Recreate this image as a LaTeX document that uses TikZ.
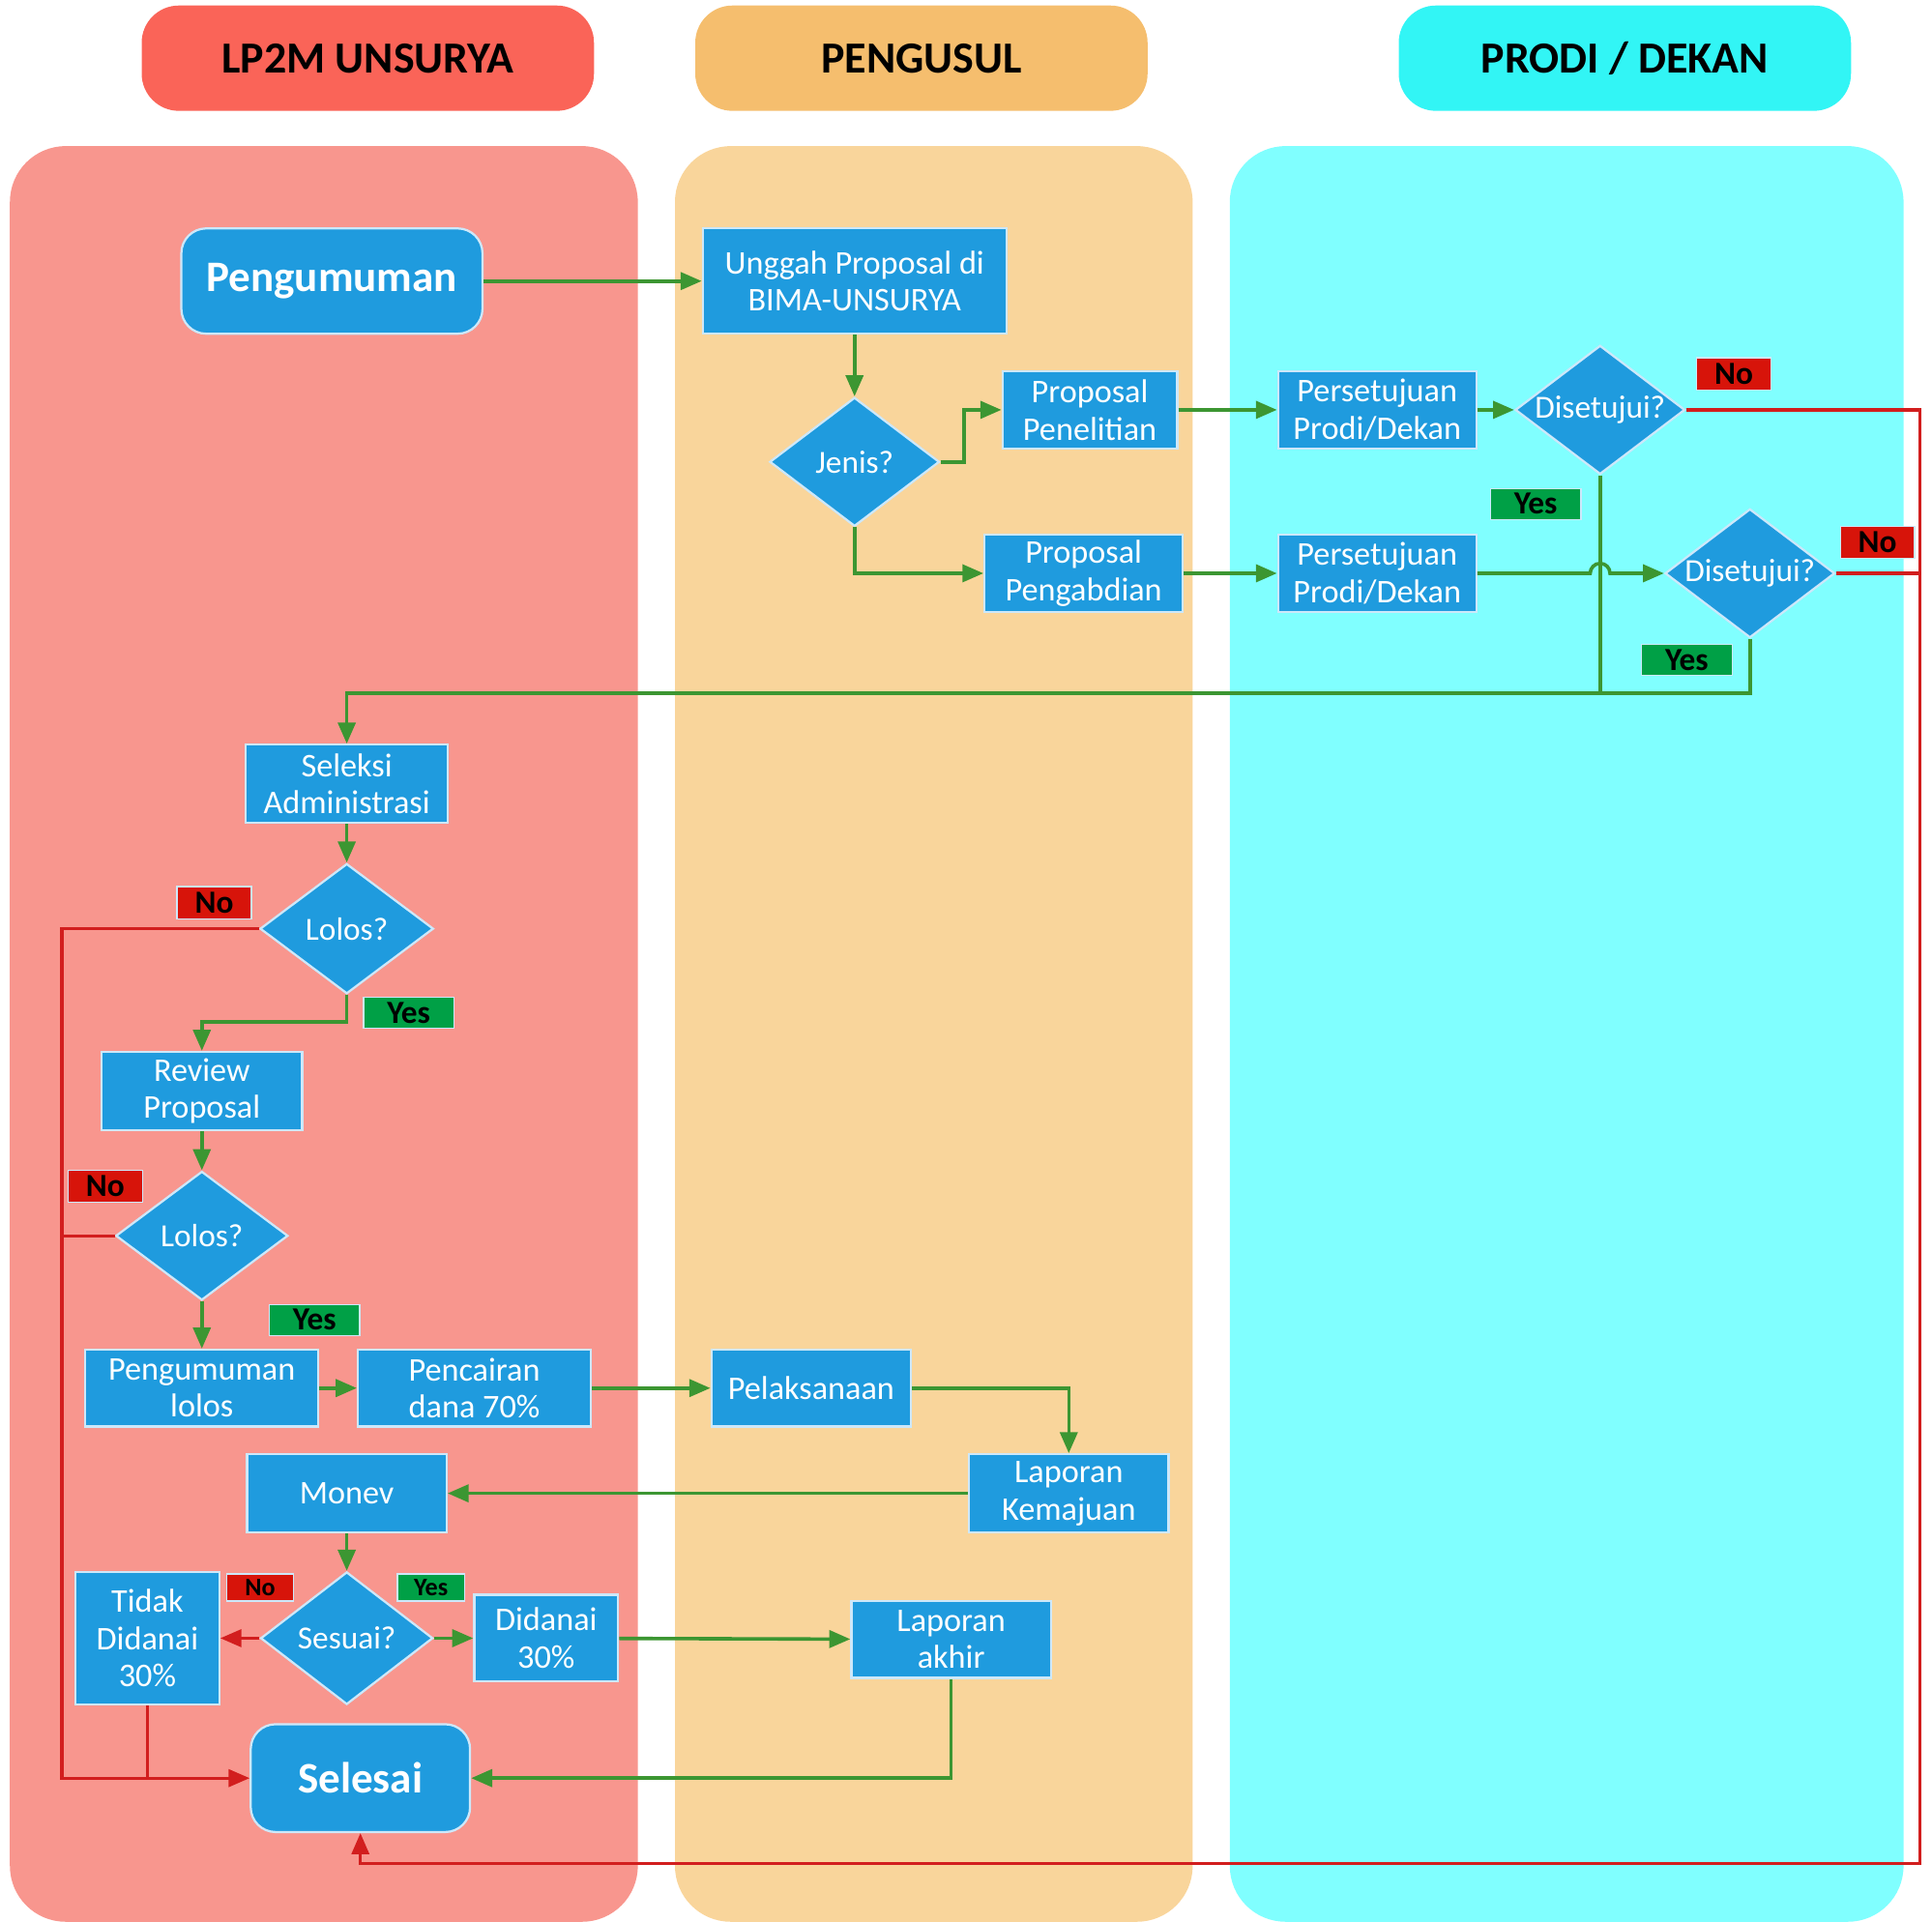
\documentclass[tikz,border=0pt]{standalone}
\usepackage{fontspec}
\setmainfont{Carlito}
\usetikzlibrary{arrows.meta,shapes.geometric}
\definecolor{hdrred}{RGB}{250,100,88}
\definecolor{hdrorange}{RGB}{245,190,110}
\definecolor{hdrcyan}{RGB}{50,245,245}
\definecolor{lanered}{RGB}{248,150,142}
\definecolor{laneorange}{RGB}{249,213,155}
\definecolor{lanecyan}{RGB}{128,255,255}
\definecolor{boxblue}{RGB}{31,155,222}
\definecolor{boxedge}{RGB}{205,232,250}
\definecolor{flowgreen}{RGB}{60,150,50}
\definecolor{flowred}{RGB}{210,30,30}
\definecolor{yesfill}{RGB}{0,160,70}
\definecolor{nofill}{RGB}{215,20,10}
\begin{document}
\begin{tikzpicture}[x=0.01cm, y=-0.01cm,
        header/.style = {rounded corners=0.3cm, minimum width=3.65cm, minimum height=0.85cm, font=\bfseries\fontsize{10.2}{12}\selectfont},
        proc/.style = {rectangle, fill=boxblue, draw=boxedge, line width=0.5pt, text=white, align=center, inner sep=0pt, font=\fontsize{7.6}{8.6}\selectfont},
        term/.style = {proc, rounded corners=0.2cm, font=\bfseries\fontsize{10}{12}\selectfont},
        decide/.style = {diamond, fill=boxblue, draw=boxedge, line width=0.5pt, text=white, inner sep=0pt, aspect=1.3, minimum width=1.37cm, minimum height=1.04cm, font=\fontsize{7.4}{8.6}\selectfont},
        yeslabel/.style = {fill=yesfill, draw=boxedge, line width=0.3pt, inner sep=0pt, minimum width=0.73cm, minimum height=0.25cm, font=\bfseries\fontsize{7.4}{8}\selectfont},
        nolabel/.style = {yeslabel, fill=nofill, minimum width=0.6cm, minimum height=0.26cm},
        flow/.style = {draw=flowgreen, line width=0.8pt, -{Triangle[length=0.17cm, width=0.14cm]}},
        flowline/.style = {draw=flowgreen, line width=0.8pt},
        noflow/.style = {draw=flowred, line width=0.7pt, -{Triangle[length=0.17cm, width=0.14cm]}},
        noline/.style = {draw=flowred, line width=0.7pt}]
            \useasboundingbox (0,0) rectangle (1560,1552);
            \fill[lanered, rounded corners=0.45cm] (8,118) rectangle (515,1552);
            \fill[laneorange, rounded corners=0.45cm] (545,118) rectangle (963,1552);
            \fill[lanecyan, rounded corners=0.45cm] (993,118) rectangle (1537,1552);
            \node[header, fill=hdrred] (H1) at (297,47) {LP2M UNSURYA};
            \node[header, fill=hdrorange] (H2) at (744,47) {PENGUSUL};
            \node[header, fill=hdrcyan] (H3) at (1312,47) {PRODI / DEKAN};

            \node[term, minimum width=2.43cm, minimum height=0.85cm] (mulai) at (268,227) {Pengumuman};
            \node[proc, minimum width=2.45cm, minimum height=0.85cm] (unggah) at (690,227) {Unggah Proposal di\\BIMA-UNSURYA};
            \node[decide] (jenis) at (690,373) {Jenis?};
            \node[proc, minimum width=1.41cm, minimum height=0.62cm] (penelitian) at (880,331) {Proposal\\Penelitian};
            \node[proc, minimum width=1.6cm, minimum height=0.62cm] (pengabdian) at (875,463) {Proposal\\Pengabdian};
            \node[proc, minimum width=1.6cm, minimum height=0.62cm] (setuju1) at (1112,331) {Persetujuan\\Prodi/Dekan};
            \node[proc, minimum width=1.6cm, minimum height=0.62cm] (setuju2) at (1112,463) {Persetujuan\\Prodi/Dekan};
            \node[decide] (dis1) at (1292,331) {Disetujui?};
            \node[decide] (dis2) at (1413,463) {Disetujui?};
            \node[nolabel] (no1) at (1400,302) {No};
            \node[yeslabel] (yes1) at (1240,407) {Yes};
            \node[nolabel] (no2) at (1516,438) {No};
            \node[yeslabel] (yes2) at (1362,533) {Yes};

            \node[proc, minimum width=1.63cm, minimum height=0.63cm] (seleksi) at (280,633) {Seleksi\\Administrasi};
            \node[decide, minimum width=1.4cm, minimum height=1.05cm] (lolos1) at (280,750) {Lolos?};
            \node[nolabel] (no3) at (173,729) {No};
            \node[yeslabel] (yes3) at (330,818) {Yes};
            \node[proc, minimum width=1.62cm, minimum height=0.63cm] (review) at (163,881) {Review\\Proposal};
            \node[decide, minimum width=1.39cm, minimum height=1.04cm] (lolos2) at (163,998) {Lolos?};
            \node[nolabel] (no4) at (85,958) {No};
            \node[yeslabel] (yes4) at (254,1066) {Yes};
            \node[proc, minimum width=1.88cm, minimum height=0.62cm] (lolos) at (163,1121) {Pengumuman\\lolos};
            \node[proc, minimum width=1.88cm, minimum height=0.62cm] (cair) at (383,1121) {Pencairan\\dana 70\%};
            \node[proc, minimum width=1.61cm, minimum height=0.62cm] (laksana) at (655,1121) {Pelaksanaan};
            \node[proc, minimum width=1.61cm, minimum height=0.63cm] (kemajuan) at (863,1206) {Laporan\\Kemajuan};
            \node[proc, minimum width=1.61cm, minimum height=0.63cm] (monev) at (280,1206) {Monev};
            \node[decide, minimum width=1.39cm, minimum height=1.07cm] (sesuai) at (280,1323) {Sesuai?};
            \node[proc, minimum width=1.16cm, minimum height=1.07cm] (tidak) at (119,1323) {Tidak\\Didanai\\30\%};
            \node[nolabel, minimum width=0.54cm, minimum height=0.22cm, font=\bfseries\fontsize{5.8}{6}\selectfont] (no5) at (210,1282) {No};
            \node[yeslabel, minimum width=0.54cm, minimum height=0.22cm, font=\bfseries\fontsize{5.8}{6}\selectfont] (yes5) at (348,1282) {Yes};
            \node[proc, minimum width=1.16cm, minimum height=0.7cm] (didanai) at (441,1323) {Didanai\\30\%};
            \node[proc, minimum width=1.61cm, minimum height=0.62cm] (akhir) at (768,1324) {Laporan\\akhir};
            \node[term, minimum width=1.77cm, minimum height=0.87cm] (selesai) at (291,1436) {Selesai};

            \coordinate (gabung) at (1292,560);
            \coordinate (kanan) at (1550,331);
            \coordinate (kananbawah) at (1550,1505);
            \coordinate (kiri) at (50,750);

            \draw[flow] (mulai) -- (unggah);
            \draw[flow] (unggah) -- (jenis);
            \draw[flow] (jenis.east) -- ++(19,0) |- (penelitian.west);
            \draw[flow] (jenis.south) |- (pengabdian.west);
            \draw[flow] (penelitian) -- (setuju1);
            \draw[flow] (pengabdian) -- (setuju2);
            \draw[flow] (setuju1) -- (dis1);
            \draw[flow] (setuju2.east) -- (1284,463) arc[start angle=180, end angle=0, radius=0.08cm] -- (dis2.west);
            \draw[flow] (dis1.south) -- (gabung) -| (seleksi.north);
            \draw[flowline] (dis2.south) |- (gabung);
            \draw[noflow] (dis1.east) -- (kanan) -- (kananbawah) -| (selesai.south);
            \draw[noline] (dis2.east) -- (dis2.east -| kanan);

            \draw[flow] (seleksi) -- (lolos1);
            \draw[flow] (lolos1.south) -- ++(0,22) -| (review.north);
            \draw[noflow] (lolos1.west) -- (kiri) |- (selesai.west);
            \draw[flow] (review) -- (lolos2);
            \draw[noline] (lolos2.west) -- (lolos2.west -| kiri);
            \draw[flow] (lolos2) -- (lolos);
            \draw[flow] (lolos) -- (cair);
            \draw[flow] (cair) -- (laksana);
            \draw[flow] (laksana.east) -| (kemajuan.north);
            \draw[flow] (kemajuan) -- (monev);
            \draw[flow] (monev) -- (sesuai);
            \draw[noflow] (sesuai) -- (tidak);
            \draw[flow] (sesuai) -- (didanai);
            \draw[flow] (didanai) -- (akhir);
            \draw[flow] (akhir.south) |- (selesai.east);
            \draw[noline] (tidak.south) -- (tidak.south |- selesai.west);
        \end{tikzpicture}
\end{document}
